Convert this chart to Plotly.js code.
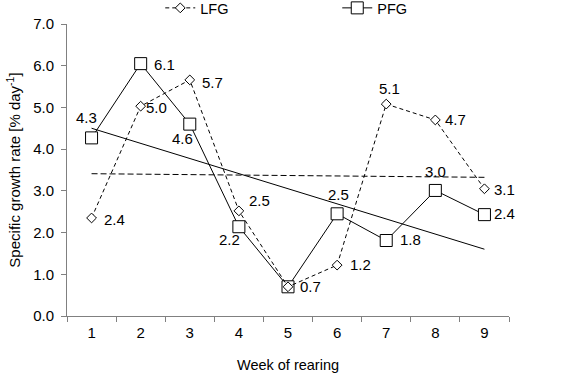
<!DOCTYPE html>
<html>
<head>
<meta charset="utf-8">
<script src="https://cdn.plot.ly/plotly-3.0.1.min.js"></script>
<style>html,body{margin:0;padding:0;background:#fff;}#chart{width:561px;height:383px;}</style>
</head>
<body>
<div id="chart"></div>
<script>
const weeks = ["1","2","3","4","5","6","7","8","9"];
const lfg = [2.35, 5.03, 5.66, 2.52, 0.7, 1.22, 5.08, 4.7, 3.05];
const pfg = [4.27, 6.05, 4.6, 2.14, 0.7, 2.45, 1.81, 3.01, 2.43];
const lfgLabels = ["2.4","5.0","5.7","2.5","0.7","1.2","5.1","4.7","3.1"];
const pfgLabels = ["4.3","6.1","4.6","2.2","","2.5","1.8","3.0","2.4"];
// label placement: [xanchor, xshift, yshift]
const lfgLabelPlace = [["left",10,-2],["left",3,-1],["left",10,-3],["left",8,10],["left",10,0],["left",11,1],["center",3,16],["left",8,0],["left",8,-1]];
const pfgLabelPlace = [["center",-5,20],["left",11,-1],["center",-7,-14],["center",-9,-13],["left",10,0],["center",1,19],["left",12,1],["center",0,19],["left",8,1]];

function trend(vals){
  const n = vals.length;
  const xs = vals.map((v,i)=>i+1);
  const mx = xs.reduce((a,b)=>a+b,0)/n, my = vals.reduce((a,b)=>a+b,0)/n;
  let sxy=0, sxx=0;
  for(let i=0;i<n;i++){sxy+=(xs[i]-mx)*(vals[i]-my); sxx+=(xs[i]-mx)**2;}
  const b = sxy/sxx, a = my-b*mx;
  return [a+b*xs[0], a+b*xs[n-1]];
}
const lt = trend(lfg), pt = trend(pfg);

const FAM = "Liberation Sans, Arial, sans-serif";
const font = {family:FAM, size:15, color:"#000"};
const data = [
  {x:[weeks[0], weeks[weeks.length-1]], y:lt, mode:"lines", showlegend:false, hoverinfo:"skip",
   line:{color:"#000", width:1, dash:"6px,3px"}},
  {x:[weeks[0], weeks[weeks.length-1]], y:pt, mode:"lines", showlegend:false, hoverinfo:"skip",
   line:{color:"#000", width:1}},
  {x:weeks, y:pfg, name:"PFG", legendrank:2, mode:"lines+markers", cliponaxis:false,
   line:{color:"#000", width:1},
   marker:{symbol:"square", size:12, color:"#fff", line:{color:"#000", width:1}}},
  {x:weeks, y:lfg, name:"LFG", legendrank:1, mode:"lines+markers", cliponaxis:false,
   line:{color:"#000", width:1, dash:"4px,3px"},
   marker:{symbol:"diamond", size:7.5, color:"#fff", line:{color:"#000", width:1}}}
];
const annotations = [];
function addLabels(vals, labels, place){
  vals.forEach((v,i)=>{
    if(!labels[i]) return;
    annotations.push({x:i, y:v, text:labels[i], showarrow:false, xanchor:place[i][0], yanchor:"middle",
      xshift:place[i][1], yshift:place[i][2], font:{family:FAM,size:15,color:"#000"}});
  });
}
addLabels(lfg, lfgLabels, lfgLabelPlace);
addLabels(pfg, pfgLabels, pfgLabelPlace);

const layout = {
  width:561, height:383,
  margin:{l:67, r:52, t:24, b:67, autoexpand:false},
  paper_bgcolor:"#fff", plot_bgcolor:"#fff",
  font:font,
  showlegend:true,
  annotations:annotations,
  legend:{orientation:"h", xref:"paper", x:0.211, xanchor:"left", yref:"paper", y:1.055, yanchor:"middle",
          entrywidth:132, itemwidth:30, traceorder:"normal",
          font:{family:FAM,size:14.5,color:"#000"}, bgcolor:"rgba(0,0,0,0)"},
  xaxis:{type:"category", categoryorder:"array", categoryarray:weeks, tickson:"boundaries", ticks:"outside", ticklen:5, tickcolor:"#808080",
         showline:true, linecolor:"#808080", linewidth:1, showgrid:false, zeroline:false,
         range:[-0.5, 8.5], ticklabelstandoff:3, tickfont:{family:FAM,size:15,color:"#000"},
         title:{text:"Week of rearing", font:{family:FAM,size:14.5,color:"#000"}, standoff:19}},
  yaxis:{range:[0,7], dtick:1, tickformat:".1f", ticks:"outside", ticklen:5, tickcolor:"#808080",
         showline:true, linecolor:"#808080", linewidth:1, showgrid:false, zeroline:false,
         ticklabelstandoff:4, tickfont:{family:FAM,size:15,color:"#000"},
         title:{text:"Specific growth rate [% day<sup>-1</sup>]", font:{family:FAM,size:15,color:"#000"}, standoff:8}}
};
Plotly.newPlot("chart", data, layout, {displayModeBar:false, staticPlot:true});
</script>
</body>
</html>
